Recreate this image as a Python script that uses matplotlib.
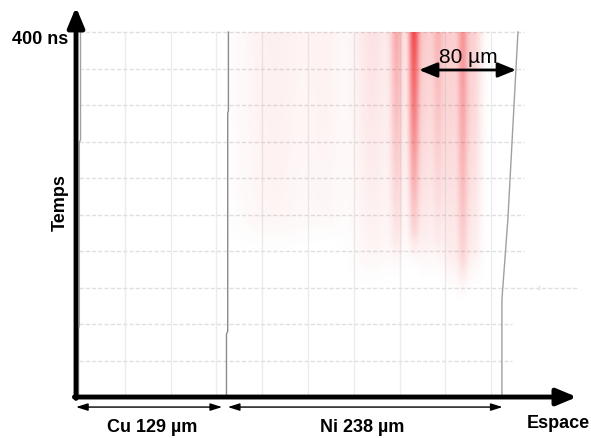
import matplotlib
matplotlib.use("Agg")
import matplotlib.pyplot as plt
import numpy as np

plt.rcParams['font.family'] = ['Liberation Sans', 'DejaVu Sans']

# layers (µm) and time window (ns)
cu_width = 129
ni_width = 238
t_max = 400

# grid
grid_x = [40, 80, 120, 160, 200, 240, 280, 320, 360]
grid_t = [40, 80, 120, 160, 200, 240, 280, 320, 360, 400]
grid_t_end = [378, 378, 435, 389, 389, 389, 389, 389, 389, 389]

# free surfaces / interface (x in µm, t in ns)
cu_surf_x = [1.3, 1.3, 0.3, 0.3, -0.4, -0.4]
cu_surf_t = [400, 282, 279, 78, 75, 0]
iface_x = [130.5, 130.5, 129.9, 129.9, 128.8, 128.8]
iface_t = [400, 314, 311, 72, 69, 0]
ni_surf_x = [383.4, 374.6, 369.4, 369.4]
ni_surf_t = [400, 195, 107, 0]

# damage bands: centre (µm), width (µm), peak opacity, lower end (ns), fade exponent
band_x = [170, 215, 256, 277, 292, 302, 313, 324, 334.5, 344]
band_w = [22, 12, 12, 4, 3.5, 5, 4, 5, 3.5, 5]
band_a = [0.07, 0.05, 0.13, 0.36, 0.8, 0.22, 0.32, 0.22, 0.45, 0.2]
band_bottom = [155, 165, 110, 125, 135, 120, 125, 105, 100, 110]
band_fade = [0.25, 0.25, 0.6, 0.8, 0.9, 0.7, 0.8, 0.6, 0.6, 0.6]

fig = plt.figure(figsize=(5.91, 4.39), dpi=100)
ax = fig.add_axes([0, 0, 1, 1])
ax.set_xlim(-69.0, 447.2)
ax.set_ylim(-44.9, 436.2)
ax.axis('off')

# red shading image
xs = np.linspace(130, 365, 470)
ts = np.linspace(0, t_max, 400)
X, T = np.meshgrid(xs, ts)
keep = np.ones_like(X)
for c, w, a, b, f in zip(band_x, band_w, band_a, band_bottom, band_fade):
    prof = a * np.exp(-0.5 * ((X - c) / w) ** 2)
    vert = np.clip((T - b) / (t_max - b), 0, 1)
    vert = np.clip(vert * 6, 0, 1) * vert ** f
    keep *= 1 - prof * vert
rgba = np.zeros(X.shape + (4,))
rgba[..., 0] = 0.94
rgba[..., 1] = 0.13
rgba[..., 2] = 0.15
rgba[..., 3] = 1 - keep
ax.imshow(rgba, extent=(xs[0], xs[-1], 0, t_max), origin='lower',
          aspect='auto', zorder=1, interpolation='bilinear')

# grid
for gx in grid_x:
    ax.plot([gx, gx], [0, t_max], color='#ececec', lw=1, zorder=0.5)
for gt, ge in zip(grid_t, grid_t_end):
    ax.plot([0, ge], [gt, gt], color='#e0e0e0', lw=1, ls=(0, (3, 1.5)), zorder=0.5)
ax.plot([402, 402], [118, 122], color='#e0e0e0', lw=1)

# surfaces
ax.plot(cu_surf_x, cu_surf_t, color='#a0a0a0', lw=1, zorder=2)
ax.plot(iface_x, iface_t, color='#8a8a8a', lw=1, zorder=2)
ax.plot(ni_surf_x, ni_surf_t, color='#a0a0a0', lw=1, zorder=2)

# axes arrows
big = dict(arrowstyle='-|>,head_length=1.2,head_width=0.5', color='black', lw=3.5,
           shrinkA=0, shrinkB=0)
ax.annotate('', xy=(-2.6, 427.4), xytext=(-2.6, -1.5), arrowprops=big, zorder=5)
ax.annotate('', xy=(434.9, 0), xytext=(-4.0, 0), arrowprops=big, zorder=5)

# dimension arrows
small = dict(arrowstyle='<|-|>,head_length=0.7,head_width=0.22', color='black', lw=1,
             shrinkA=0, shrinkB=0)
ax.annotate('', xy=(-2.6, -11), xytext=(cu_width - 4, -11), arrowprops=small)
ax.annotate('', xy=(cu_width + 1, -11), xytext=(cu_width + ni_width + 3, -11), arrowprops=small)

span = dict(arrowstyle='<|-|>,head_length=1.1,head_width=0.45', color='black', lw=2,
            shrinkA=0, shrinkB=0)
ax.annotate('', xy=(297, 358.4), xytext=(381.7, 358.4), arrowprops=span, zorder=4)
ax.text(339.7, 373.7, '80 µm', fontsize=15, ha='center', va='center', zorder=4)

# labels
bold = dict(fontsize=13, fontweight='bold', va='center')
ax.text(-9.6, 393.4, '400 ns', ha='right', **bold)
ax.text(-16.5, 213.7, 'Temps', ha='center', rotation=90, **bold)
ax.text(63.8, -31.8, f'Cu {cu_width} µm', ha='center', **bold)
ax.text(247.2, -31.8, f'Ni {ni_width} µm', ha='center', **bold)
ax.text(418.3, -27.4, 'Espace', ha='center', **bold)

fig.savefig('out.png', dpi=100)
